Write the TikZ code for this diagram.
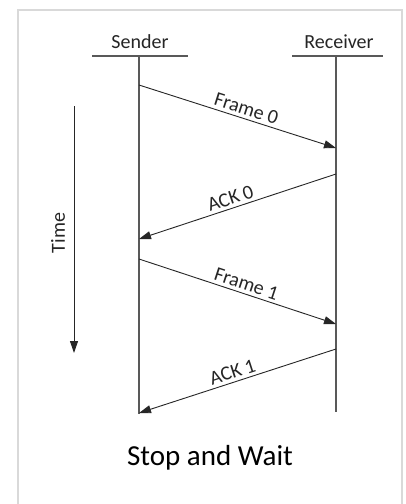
\documentclass[tikz,border=0pt]{standalone}
\usepackage{fontspec}
\setmainfont{Carlito}
\usetikzlibrary{arrows.meta}
\tikzset{
  lbl/.style={font=\fontsize{20}{22}\selectfont, text=black!85, inner sep=0pt},
  lifeline/.style={draw=black!65, line width=1.1pt},
  header/.style={draw=black!65, line width=1.3pt},
  msg/.style={draw=black!85, line width=0.9pt, -{Triangle[length=12pt,width=8pt]}},
  msglbl/.style={lbl, sloped, above=3pt},
}
\begin{document}
\begin{tikzpicture}[x=1pt,y=-1pt]
\useasboundingbox (0,0) rectangle (405,504);
\fill[white] (0,0) rectangle (405,504);
% frame border
\draw[black!15, line width=2pt] (17.5,510) -- (17.5,10) -- (402,10) -- (402,510);
% headers
\node[lbl] (sname) at (140,42) {Sender};
\node[lbl] (rname) at (339,42) {Receiver};
\coordinate (shl) at (92,56);
\coordinate (shr) at (188,56);
\coordinate (rhl) at (292,56);
\coordinate (rhr) at (383,56);
\draw[header] (shl) -- (shr);
\draw[header] (rhl) -- (rhr);
% lifelines
\coordinate (stop) at (139,56);
\coordinate (sbot) at (139,414);
\coordinate (rtop) at (336,56);
\coordinate (rbot) at (336,412);
\draw[lifeline] (stop) -- (sbot);
\draw[lifeline] (rtop) -- (rbot);
% message points
\coordinate (f0s) at (139,85);
\coordinate (f0e) at (336,148);
\coordinate (a0s) at (336,174);
\coordinate (a0e) at (139,239);
\coordinate (f1s) at (139,259);
\coordinate (f1e) at (336,324);
\coordinate (a1s) at (336,349);
\coordinate (a1e) at (139,413);
\draw[msg] (f0s) -- node[msglbl, pos=0.53] (f0l) {Frame 0} (f0e);
\draw[msg] (a0s) -- node[msglbl, pos=0.52] (a0l) {ACK 0} (a0e);
\draw[msg] (f1s) -- node[msglbl, pos=0.53] (f1l) {Frame 1} (f1e);
\draw[msg] (a1s) -- node[msglbl, pos=0.51] (a1l) {ACK 1} (a1e);
% time axis
\coordinate (tt) at (74,106);
\coordinate (tb) at (74,353);
\draw[black!85, line width=1pt, -{Triangle[length=12pt,width=8pt]}] (tt) -- (tb);
\node[lbl, rotate=90] (time) at (58,233) {Time};
% caption
\node[font=\fontsize{29}{32}\selectfont, inner sep=0pt] (cap) at (210,458) {Stop and Wait};
\end{tikzpicture}
\end{document}
